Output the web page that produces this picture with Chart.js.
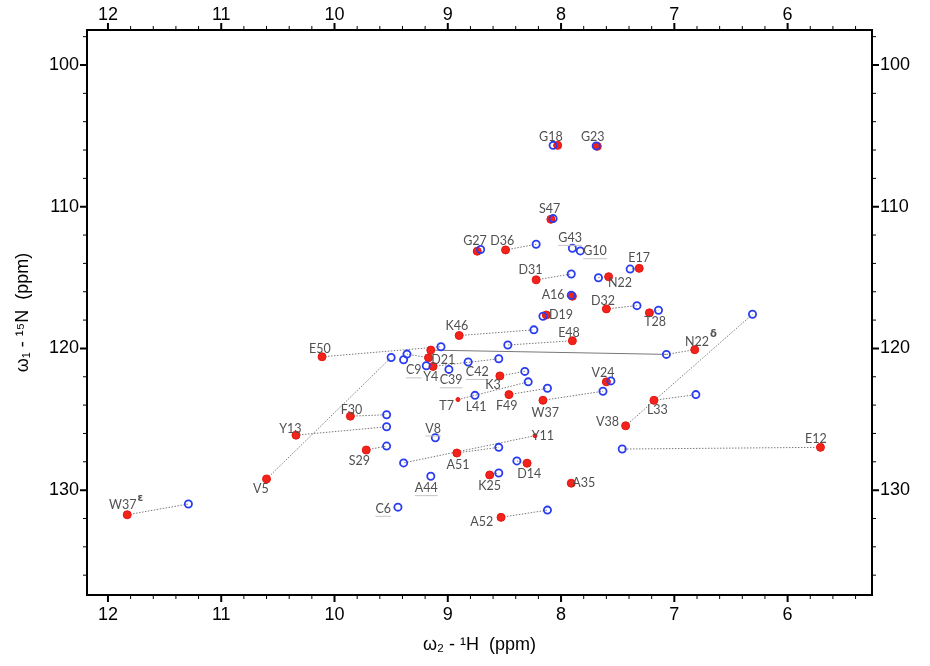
<!DOCTYPE html>
<html>
<head>
<meta charset="utf-8">
<script src="https://cdn.jsdelivr.net/npm/chart.js@4.4.1/dist/chart.umd.min.js"></script>
<style>
  body { margin: 0; background: #fff; }
</style>
</head>
<body>
<canvas id="hsqc" width="930" height="666"></canvas>
<script>
// residue assignments, '' = unassigned peak (no label)
const residues = ['G18','G23','S47','G27','D36','G43','G10','E17','N22','D31',
  'A16','D32','T28','D19','K46','E48','E50','','D21','C9',
  'Y4','','C39','C42','K3','T7','L41','F49','W37','V24',
  'L33','V38','N22δ','E12','F30','Y13','V8','Y11','A51','S29',
  'D14','K25','A44','A35','A52','W37ε','V5','C6'];

// red spectrum peaks (ppm), null = no red peak
const redH = [8.03,7.68,8.09,8.74,8.49,null,null,7.31,7.58,8.22,
  7.90,7.60,7.22,8.13,8.90,7.90,10.11,9.15,9.17,null,
  9.13,null,null,null,8.54,8.91,null,8.46,8.16,7.60,
  7.18,7.43,6.82,5.71,9.86,10.34,null,8.23,8.92,9.72,
  8.30,8.63,null,7.91,8.53,11.83,10.60,null];
const redN = [105.67,105.74,110.89,113.14,113.05,null,null,114.35,114.94,115.16,
  116.32,117.21,117.49,117.64,119.09,119.46,120.59,120.12,120.66,null,
  121.27,null,null,null,121.94,123.61,null,123.26,123.66,122.36,
  123.66,125.46,120.09,126.98,124.78,126.12,null,126.16,127.38,127.17,
  128.10,128.93,null,129.51,131.92,131.74,129.21,null];

// blue spectrum peaks (ppm), null = no blue peak
const blueH = [8.07,7.69,8.07,8.71,8.22,7.90,7.83,7.39,7.67,7.91,
  7.91,7.33,7.14,8.16,8.24,8.47,9.06,null,9.36,9.39,
  8.55,9.19,8.99,8.82,8.32,8.29,8.76,8.12,7.63,7.56,
  6.81,6.31,7.07,7.46,9.54,9.54,9.11,9.39,8.55,9.54,
  8.39,8.55,9.15,null,8.12,11.29,9.50,9.44];
const blueN = [105.67,105.71,110.84,113.02,112.65,112.93,113.12,114.40,115.01,114.75,
  116.25,116.98,117.31,117.73,118.69,119.76,119.88,null,120.40,120.80,
  120.73,121.22,121.48,120.96,121.62,122.36,123.31,122.81,123.02,122.29,
  123.26,117.59,120.42,127.10,124.68,125.53,126.30,128.08,126.98,126.89,
  127.94,128.79,129.02,null,131.41,130.98,120.64,131.20];

// label anchors (ppm)
const labelH = [8.09,7.72,8.10,8.76,8.52,7.92,7.70,7.31,7.48,8.27,
  8.07,7.63,7.17,8.00,8.92,7.93,10.13,null,9.04,9.30,
  9.15,null,8.97,8.74,8.60,9.01,8.75,8.48,8.14,7.63,
  7.15,7.59,6.80,5.75,9.85,10.39,9.13,8.16,8.91,9.78,
  8.28,8.63,9.19,7.80,8.70,11.87,10.65,9.57];
const labelN = [105.06,105.06,110.19,112.44,112.44,112.20,113.14,113.65,115.41,114.47,
  116.21,116.63,118.15,117.64,118.43,118.90,120.07,null,120.78,121.55,
  122.04,null,122.25,121.66,122.60,124.05,124.12,124.05,124.54,121.73,
  124.36,125.22,119.51,126.40,124.36,125.65,125.65,126.19,128.22,127.94,
  128.88,129.74,129.86,129.51,132.27,131.08,129.91,131.32];

// unassigned red peak joined to N22δ by a solid line
const solidFrom = 17, solidTo = 32;

const underlined = ['G43','G10','C9','C39','C42','V8','A44','C6'];
const weakPeaks = ['T7','Y11'];

const hTicks = [12, 11, 10, 9, 8, 7, 6];
const nTicks = [100, 110, 120, 130];
const hRange = [5.255, 12.185];
const nRange = [97.53, 137.4];

const tickFont = { family: 'Liberation Sans', size: 18 };

// dotted links red -> blue
const links = [];
residues.forEach((r, i) => {
  if (redH[i] == null || blueH[i] == null) return;
  links.push({
    type: 'line',
    data: [{ x: redH[i], y: redN[i] }, { x: blueH[i], y: blueN[i] }],
    borderColor: '#7a7a7a', borderWidth: 1, borderDash: [1.5, 1.5],
    pointRadius: 0, fill: false, order: 3
  });
});
links.push({
  type: 'line',
  data: [{ x: redH[solidFrom], y: redN[solidFrom] }, { x: blueH[solidTo], y: blueN[solidTo] }],
  borderColor: '#777', borderWidth: 1, pointRadius: 0, fill: false, order: 3
});

const redPts = [], redNames = [];
const bluePts = [];
residues.forEach((r, i) => {
  if (redH[i] != null) { redPts.push({ x: redH[i], y: redN[i] }); redNames.push(r); }
  if (blueH[i] != null) bluePts.push({ x: blueH[i], y: blueN[i] });
});

const tickMarks = {
  id: 'tickMarks',
  afterDraw(chart) {
    const { ctx, chartArea: a, scales } = chart;
    ctx.save();
    ctx.strokeStyle = '#000';
    for (let k = 27; k <= 60; k++) {
      const v = k / 5;
      const major = k % 5 === 0;
      const px = scales.x.getPixelForValue(v);
      const len = major ? 7 : 4;
      ctx.lineWidth = major ? 2 : 1;
      ctx.beginPath();
      ctx.moveTo(px, a.bottom); ctx.lineTo(px, a.bottom + len);
      ctx.moveTo(px, a.top); ctx.lineTo(px, a.top - len);
      ctx.stroke();
    }
    for (let v = 98; v <= 136; v += 2) {
      const major = v % 10 === 0;
      const py = scales.y.getPixelForValue(v);
      const len = major ? 7 : 4;
      ctx.lineWidth = major ? 2 : 1;
      ctx.beginPath();
      ctx.moveTo(a.left, py); ctx.lineTo(a.left - len, py);
      ctx.moveTo(a.right, py); ctx.lineTo(a.right + len, py);
      ctx.stroke();
    }
    ctx.restore();
  }
};

const peakLabels = {
  id: 'peakLabels',
  afterDatasetsDraw(chart) {
    const { ctx, scales: { x, y } } = chart;
    ctx.save();
    ctx.textAlign = 'center';
    ctx.textBaseline = 'middle';
    residues.forEach((name, i) => {
      if (!name || labelH[i] == null) return;
      const px = x.getPixelForValue(labelH[i]);
      const py = y.getPixelForValue(labelN[i]);
      const greek = /[δε]$/.test(name);
      const base = greek ? name.slice(0, -1) : name;
      ctx.font = '12.5px Lato';
      ctx.fillStyle = '#505050';
      ctx.fillText(base, px, py);
      const w = ctx.measureText(base).width;
      if (greek) {
        ctx.font = 'bold 10px "DejaVu Sans"';
        ctx.textAlign = 'left';
        ctx.fillText(name.slice(-1), px + w / 2 + 1, py - 7);
        ctx.textAlign = 'center';
      }
      if (underlined.includes(name)) {
        ctx.strokeStyle = '#c4c4c4';
        ctx.lineWidth = 1;
        ctx.beginPath();
        ctx.moveTo(px - w / 2, py + 7.5);
        ctx.lineTo(px + w / 2, py + 7.5);
        ctx.stroke();
      }
    });
    ctx.restore();
  }
};

new Chart(document.getElementById('hsqc'), {
  type: 'scatter',
  data: {
    datasets: [
      ...links,
      {
        data: redPts, order: 2,
        pointStyle: 'circle',
        pointRadius: ctx => weakPeaks.includes(redNames[ctx.dataIndex]) ? 2 : 4,
        backgroundColor: '#f2231a', borderColor: '#e51510', borderWidth: 1
      },
      {
        data: bluePts, order: 1,
        pointStyle: 'circle', pointRadius: 3.6,
        backgroundColor: 'rgba(255,255,255,0)', borderColor: '#2a3cf0', borderWidth: 1.8
      }
    ]
  },
  options: {
    responsive: false,
    animation: false,
    events: [],
    layout: { padding: 0 },
    plugins: { legend: { display: false }, tooltip: { enabled: false } },
    scales: {
      x: {
        type: 'linear', position: 'bottom', reverse: true,
        min: hRange[0], max: hRange[1],
        afterBuildTicks: s => { s.ticks = hTicks.map(v => ({ value: v })); },
        afterFit: s => { s.height = 71; },
        ticks: { font: tickFont, color: '#000', padding: 9, maxRotation: 0 },
        grid: { display: false, drawTicks: false },
        border: { display: true, color: '#000', width: 2 },
        title: { display: true, text: 'ω₂ - ¹H  (ppm)', font: { family: 'Liberation Sans', size: 18 }, color: '#000', padding: { top: 0, bottom: 10 } }
      },
      x2: {
        type: 'linear', position: 'top', reverse: true,
        min: hRange[0], max: hRange[1],
        afterBuildTicks: s => { s.ticks = hTicks.map(v => ({ value: v })); },
        afterFit: s => { s.height = 30; },
        ticks: { font: tickFont, color: '#000', padding: 4, maxRotation: 0 },
        grid: { display: false, drawTicks: false },
        border: { display: true, color: '#000', width: 2 }
      },
      y: {
        type: 'linear', position: 'left', reverse: true,
        min: nRange[0], max: nRange[1],
        afterBuildTicks: s => { s.ticks = nTicks.map(v => ({ value: v })); },
        afterFit: s => { s.width = 87; },
        ticks: { font: tickFont, color: '#000', padding: 8 },
        grid: { display: false, drawTicks: false },
        border: { display: true, color: '#000', width: 2 },
        title: { display: true, text: 'ω₁ - ¹⁵N  (ppm)', font: { family: 'Liberation Sans', size: 18 }, color: '#000', padding: { top: 12, bottom: 0 } }
      },
      y2: {
        type: 'linear', position: 'right', reverse: true,
        min: nRange[0], max: nRange[1],
        afterBuildTicks: s => { s.ticks = nTicks.map(v => ({ value: v })); },
        afterFit: s => { s.width = 58; },
        ticks: { font: tickFont, color: '#000', padding: 8 },
        grid: { display: false, drawTicks: false },
        border: { display: true, color: '#000', width: 2 }
      }
    }
  },
  plugins: [tickMarks, peakLabels]
});
</script>
</body>
</html>
